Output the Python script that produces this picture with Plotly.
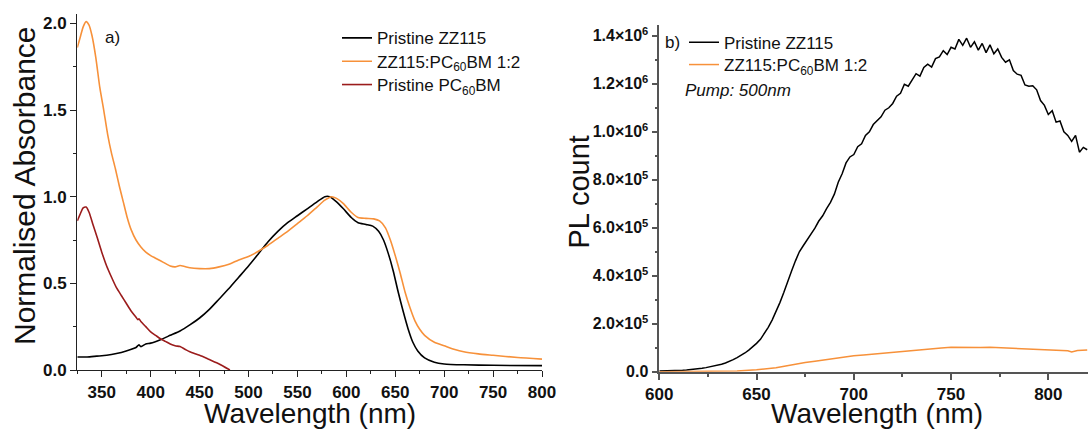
import plotly.graph_objects as go

# ---------------- data: (a) normalised absorbance ----------------
zz115_abs_nm = [325, 335, 345, 355, 365, 375, 385, 388, 390, 395, 400, 410, 420, 430, 440, 450,
                460, 470, 480, 490, 500, 510, 520, 530, 540, 550, 560, 570, 578, 583, 590, 597,
                605, 612, 620, 627, 633, 638, 643, 648, 653, 658, 663, 668, 673, 680, 690, 700,
                720, 750, 800]
zz115_abs = [0.075, 0.075, 0.08, 0.085, 0.095, 0.11, 0.13, 0.145, 0.135, 0.15, 0.155, 0.175, 0.2,
             0.225, 0.26, 0.3, 0.35, 0.41, 0.47, 0.535, 0.6, 0.67, 0.74, 0.8, 0.85, 0.89, 0.93,
             0.97, 1.0, 1.0, 0.97, 0.93, 0.88, 0.85, 0.84, 0.83, 0.8, 0.75, 0.67, 0.57, 0.45,
             0.34, 0.24, 0.16, 0.11, 0.07, 0.045, 0.035, 0.03, 0.027, 0.025]

blend_abs_nm = [325, 328, 331, 334, 337, 340, 344, 348, 352, 356, 360, 364, 368, 372, 376, 380,
                385, 390, 395, 400, 405, 410, 415, 420, 425, 430, 435, 440, 450, 460, 470, 480,
                490, 500, 510, 520, 530, 540, 550, 560, 570, 578, 585, 590, 597, 605, 612, 620,
                628, 634, 640, 645, 650, 655, 660, 665, 670, 675, 680, 690, 700, 710, 720, 735,
                750, 775, 800]
blend_abs = [1.86, 1.92, 1.98, 2.01, 1.99, 1.93, 1.8, 1.63, 1.5, 1.36, 1.25, 1.16, 1.06, 0.97,
             0.88, 0.81, 0.75, 0.71, 0.68, 0.66, 0.645, 0.63, 0.615, 0.6, 0.595, 0.603, 0.597,
             0.59, 0.585, 0.585, 0.595, 0.61, 0.635, 0.655, 0.685, 0.72, 0.76, 0.8, 0.845, 0.89,
             0.94, 0.98, 1.0, 0.99, 0.96, 0.91, 0.88, 0.875, 0.872, 0.86, 0.82, 0.75, 0.66, 0.56,
             0.45, 0.36, 0.285, 0.235, 0.2, 0.16, 0.14, 0.12, 0.105, 0.093, 0.085, 0.072, 0.063]

pcbm_abs_nm = [325, 328, 331, 334, 337, 341, 345, 350, 355, 360, 365, 370, 375, 380, 385, 387,
               388, 390, 395, 400, 405, 410, 415, 420, 425, 430, 435, 440, 450, 460, 470, 481]
pcbm_abs = [0.86, 0.9, 0.935, 0.94, 0.91, 0.84, 0.77, 0.68, 0.6, 0.535, 0.475, 0.43, 0.385, 0.34,
            0.305, 0.29, 0.295, 0.28, 0.25, 0.22, 0.2, 0.18, 0.165, 0.15, 0.14, 0.135, 0.12,
            0.105, 0.085, 0.06, 0.035, 0.0]

abs_xticks = [350, 400, 450, 500, 550, 600, 650, 700, 750, 800]
abs_yticks = [0.0, 0.5, 1.0, 1.5, 2.0]

# ---------------- data: (b) PL counts ----------------
pl_zz115_nm = list(range(600, 821, 2))
pl_zz115_k = [3, 3, 4, 4, 5, 5, 6, 7, 8, 10, 12, 14, 17, 20, 23, 27, 31, 36, 42, 50, 59, 68, 78,
              90, 103, 118, 135, 158, 185, 215, 250, 288, 330, 378, 420, 462, 500, 525, 548, 575,
              598, 628, 650, 680, 706, 740, 790, 825, 870, 895, 905, 938, 950, 985, 1000, 1030,
              1045, 1062, 1090, 1100, 1118, 1148, 1160, 1198, 1190, 1215, 1242, 1232, 1268, 1282,
              1270, 1305, 1312, 1338, 1322, 1352, 1345, 1385, 1360, 1390, 1352, 1375, 1340, 1368,
              1330, 1362, 1325, 1345, 1310, 1290, 1300, 1255, 1240, 1235, 1195, 1190, 1192, 1175,
              1130, 1110, 1072, 1088, 1040, 1045, 1000, 985, 960, 985, 915, 935, 925]
pl_zz115 = [v * 1000 for v in pl_zz115_k]

pl_blend_nm = [600, 610, 620, 630, 640, 650, 655, 660, 665, 670, 675, 680, 685, 690, 695, 700,
               705, 710, 715, 720, 725, 730, 735, 740, 745, 750, 755, 760, 765, 770, 775, 780,
               785, 790, 795, 800, 805, 810, 812, 815, 820]
pl_blend_k = [0, 0, 0, 1, 3, 8, 11, 16, 24, 32, 38, 44, 50, 57, 62, 66, 70, 74, 78, 82, 86, 89,
              92, 96, 99, 102, 101, 103, 101, 102, 100, 100, 98, 96, 95, 91, 89, 87, 82, 88, 90]
pl_blend = [v * 1000 for v in pl_blend_k]

pl_xticks = [600, 650, 700, 750, 800]
pl_yticks = [0, 2e5, 4e5, 6e5, 8e5, 1.0e6, 1.2e6, 1.4e6]
pl_ytick_labels = ["0.0", "2.0×10<sup>5</sup>", "4.0×10<sup>5</sup>", "6.0×10<sup>5</sup>",
                   "8.0×10<sup>5</sup>", "1.0×10<sup>6</sup>", "1.2×10<sup>6</sup>",
                   "1.4×10<sup>6</sup>"]

# ---------------- styling ----------------
W, H = 1088, 430
FONT = "Liberation Sans"
BLACK = "#000000"
ORANGE = "#F7913A"
WINE = "#9B1C1C"


def fx(px):
    return px / W


def fy(py):
    return 1 - py / H


def bold(labels):
    return ["<b>%s</b>" % s for s in labels]


fig = go.Figure()

fig.add_trace(go.Scatter(x=zz115_abs_nm, y=zz115_abs, mode="lines", name="Pristine ZZ115",
                         line=dict(color=BLACK, width=1.6, shape="spline", smoothing=0.6),
                         xaxis="x", yaxis="y", legend="legend"))
fig.add_trace(go.Scatter(x=blend_abs_nm, y=blend_abs, mode="lines",
                         name="ZZ115:PC<sub>60</sub>BM 1:2",
                         line=dict(color=ORANGE, width=1.6, shape="spline", smoothing=0.6),
                         xaxis="x", yaxis="y", legend="legend3"))
fig.add_trace(go.Scatter(x=pcbm_abs_nm, y=pcbm_abs, mode="lines",
                         name="Pristine PC<sub>60</sub>BM",
                         line=dict(color=WINE, width=1.6, shape="spline", smoothing=0.6),
                         xaxis="x", yaxis="y", legend="legend4"))

fig.add_trace(go.Scatter(x=pl_zz115_nm, y=pl_zz115, mode="lines", name="Pristine ZZ115",
                         line=dict(color=BLACK, width=1.5),
                         xaxis="x2", yaxis="y2", legend="legend2"))
fig.add_trace(go.Scatter(x=pl_blend_nm, y=pl_blend, mode="lines",
                         name="ZZ115:PC<sub>60</sub>BM 1:2",
                         line=dict(color=ORANGE, width=1.5),
                         xaxis="x2", yaxis="y2", legend="legend5"))

tickfont = dict(family=FONT, size=17, color="#111")
LC = "#222222"
RC = "#555555"

left_dom_x = [fx(77.3), fx(542)]
left_dom_y = [fy(370), fy(14)]
right_dom_x = [fx(659.3), 1.0]
right_dom_y = [fy(371.7), fy(25)]


def leg(xpx, ytop):
    return dict(x=fx(xpx), y=fy(ytop), xanchor="left", yanchor="top",
                font=dict(family=FONT, size=17, color="#111"), bgcolor="rgba(0,0,0,0)",
                itemwidth=30, tracegroupgap=0, borderwidth=0)


fig.update_layout(
    width=W, height=H,
    margin=dict(l=0, r=0, t=0, b=0, autoexpand=False),
    paper_bgcolor="white", plot_bgcolor="white",
    font=dict(family=FONT, color="#111"),
    xaxis=dict(domain=left_dom_x, anchor="y", range=[325, 800],
               tickmode="array", tickvals=abs_xticks, ticktext=bold([str(v) for v in abs_xticks]),
               ticks="outside", ticklen=6, tickwidth=1.3, tickcolor=LC,
               showline=True, linecolor=LC, linewidth=1.3, showgrid=False, zeroline=False,
               tickfont=tickfont,
               minor=dict(dtick=25, tick0=0, ticks="outside", ticklen=3, tickcolor=LC,
                          tickwidth=1.3, showgrid=False)),
    yaxis=dict(domain=left_dom_y, anchor="x", range=[0, 2.054],
               tickmode="array", tickvals=abs_yticks,
               ticktext=bold(["%.1f" % v for v in abs_yticks]),
               ticks="outside", ticklen=6, tickwidth=1.3, tickcolor=LC,
               showline=True, linecolor=LC, linewidth=1.3, showgrid=False, zeroline=False,
               tickfont=tickfont,
               minor=dict(dtick=0.25, tick0=0, ticks="outside", ticklen=3, tickcolor=LC,
                          tickwidth=1.3, showgrid=False)),
    xaxis3=dict(overlaying="x", anchor="y", side="top", range=[325, 800], dtick=25, tick0=0,
                ticks="inside", ticklen=5, tickwidth=1.3, tickcolor=LC, showticklabels=False,
                showline=True, linecolor=LC, linewidth=1.3, showgrid=False, zeroline=False),
    yaxis3=dict(overlaying="y", anchor="x", side="right", range=[0, 2.054], dtick=0.25, tick0=0,
                ticks="inside", ticklen=5, tickwidth=1.3, tickcolor=LC, showticklabels=False,
                showline=True, linecolor=LC, linewidth=1.3, showgrid=False, zeroline=False),
    xaxis2=dict(domain=right_dom_x, anchor="y2", range=[600, 820.4],
                tickmode="array", tickvals=pl_xticks, ticktext=bold([str(v) for v in pl_xticks]),
                ticks="outside", ticklen=6, tickwidth=1.6, tickcolor=RC,
                showline=True, linecolor=RC, linewidth=1.6, showgrid=False, zeroline=False,
                tickfont=tickfont,
                minor=dict(dtick=25, tick0=0, ticks="outside", ticklen=3, tickcolor=RC,
                           tickwidth=1.6, showgrid=False)),
    yaxis2=dict(domain=right_dom_y, anchor="x2", range=[0, 1.445e6],
                tickmode="array", tickvals=pl_yticks, ticktext=bold(pl_ytick_labels),
                ticks="outside", ticklen=6, tickwidth=1.6, tickcolor=RC,
                showline=True, linecolor=RC, linewidth=1.6, showgrid=False, zeroline=False,
                tickfont=dict(family=FONT, size=16, color="#111"),
                minor=dict(dtick=1e5, tick0=0, ticks="outside", ticklen=3, tickcolor=RC,
                           tickwidth=1.6, showgrid=False)),
    xaxis4=dict(overlaying="x2", anchor="y2", side="top", range=[600, 820.4], dtick=25, tick0=0,
                ticks="inside", ticklen=5, tickwidth=1.6, tickcolor=RC, showticklabels=False,
                showline=True, linecolor=RC, linewidth=1.6, showgrid=False, zeroline=False),
    legend=leg(337, 20.3),
    legend3=leg(337, 43.7),
    legend4=leg(337, 67),
    legend2=leg(684, 24.7),
    legend5=leg(684, 47),
    showlegend=True,
)

ann = [
    dict(text="a)", x=fx(102.5), y=fy(37), xanchor="left", yanchor="middle",
         font=dict(family=FONT, size=17, color="#111")),
    dict(text="b)", x=fx(663), y=fy(43), xanchor="left", yanchor="middle",
         font=dict(family=FONT, size=17, color="#111")),
    dict(text="<i>Pump: 500nm</i>", x=fx(683), y=fy(90), xanchor="left", yanchor="middle",
         font=dict(family=FONT, size=17, color="#111")),
    dict(text="Normalised Absorbance", x=fx(25), y=fy(186), xanchor="center", yanchor="middle",
         textangle=-90, font=dict(family=FONT, size=30, color="#111")),
    dict(text="Wavelength (nm)", x=fx(309.7), y=fy(413.5), xanchor="center", yanchor="middle",
         font=dict(family=FONT, size=28, color="#111")),
    dict(text="PL count", x=fx(578.5), y=fy(192), xanchor="center", yanchor="middle",
         textangle=-90, font=dict(family=FONT, size=29, color="#111")),
    dict(text="Wavelength (nm)", x=fx(876.5), y=fy(413.5), xanchor="center", yanchor="middle",
         font=dict(family=FONT, size=28, color="#111")),
]
for a in ann:
    a.update(xref="paper", yref="paper", showarrow=False)
fig.update_layout(annotations=ann)

fig.write_html("out.html")
